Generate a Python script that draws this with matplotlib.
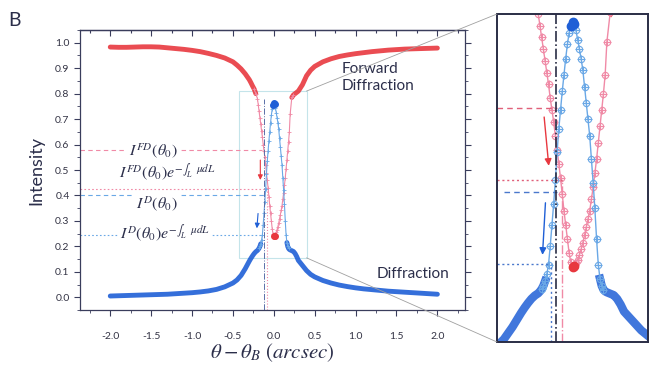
import numpy as np
import matplotlib.pyplot as plt
from matplotlib.patches import Rectangle, ConnectionPatch
from matplotlib.ticker import MultipleLocator, FormatStrFormatter

plt.rcParams['font.family'] = ['Lato', 'DejaVu Sans']
plt.rcParams['mathtext.fontset'] = 'stix'

# angle offset (arcsec)
theta = [-2.0, -1.9, -1.8, -1.7, -1.6, -1.5, -1.4, -1.3, -1.2, -1.1, -1.0, -0.9,
         -0.8, -0.7, -0.6, -0.5, -0.45, -0.4, -0.35, -0.3, -0.28, -0.26, -0.24, -0.22,
         -0.20, -0.19, -0.18, -0.17, -0.16, -0.15, -0.14, -0.13, -0.12, -0.11, -0.10,
         -0.09, -0.08, -0.07, -0.06, -0.05, -0.04, -0.03, -0.02, -0.01, 0.00,
         0.01, 0.02, 0.03, 0.04, 0.05, 0.06, 0.07, 0.08, 0.09, 0.10,
         0.11, 0.12, 0.13, 0.14, 0.15, 0.16, 0.17, 0.18, 0.19, 0.20,
         0.22, 0.24, 0.26, 0.28, 0.30, 0.35, 0.40, 0.45, 0.50, 0.6, 0.7, 0.8,
         0.9, 1.0, 1.1, 1.2, 1.3, 1.4, 1.5, 1.6, 1.7, 1.8, 1.9, 2.0]

# forward diffraction intensity (red)
forward = [0.983, 0.982, 0.982, 0.983, 0.984, 0.984, 0.983, 0.980, 0.977, 0.974, 0.970, 0.965,
           0.958, 0.950, 0.940, 0.925, 0.912, 0.897, 0.878, 0.855, 0.843, 0.830, 0.818, 0.800,
           0.780, 0.755, 0.730, 0.705, 0.680, 0.655, 0.630, 0.600, 0.575, 0.550, 0.520,
           0.490, 0.460, 0.430, 0.395, 0.360, 0.330, 0.300, 0.270, 0.250, 0.240,
           0.242, 0.248, 0.256, 0.266, 0.278, 0.292, 0.308, 0.325, 0.342, 0.360,
           0.385, 0.410, 0.440, 0.470, 0.505, 0.540, 0.575, 0.610, 0.650, 0.720,
           0.785, 0.795, 0.800, 0.805, 0.810, 0.835, 0.870, 0.892, 0.907, 0.925, 0.937, 0.946,
           0.952, 0.957, 0.961, 0.965, 0.968, 0.971, 0.973, 0.975, 0.976, 0.977, 0.978, 0.979]

# diffraction intensity (blue)
diffraction = [0.005, 0.006, 0.007, 0.008, 0.009, 0.010, 0.011, 0.012, 0.014, 0.016, 0.018, 0.021,
               0.025, 0.031, 0.041, 0.056, 0.068, 0.086, 0.112, 0.142, 0.153, 0.163, 0.172, 0.179,
               0.184, 0.188, 0.193, 0.200, 0.210, 0.225, 0.245, 0.285, 0.330, 0.375, 0.425,
               0.485, 0.535, 0.575, 0.615, 0.650, 0.685, 0.715, 0.740, 0.755, 0.762,
               0.758, 0.745, 0.725, 0.705, 0.685, 0.660, 0.625, 0.590, 0.555, 0.520,
               0.470, 0.420, 0.365, 0.300, 0.245, 0.215, 0.200, 0.192, 0.188, 0.186,
               0.183, 0.180, 0.172, 0.160, 0.145, 0.125, 0.105, 0.090, 0.080, 0.066, 0.056, 0.048,
               0.042, 0.037, 0.033, 0.030, 0.027, 0.024, 0.022, 0.020, 0.018, 0.016, 0.014, 0.012]

# reference levels used in the annotations
i_fd, i_fd_att = 0.58, 0.425
i_d, i_d_att = 0.40, 0.245

red, pink = '#e8383f', '#f08aa6'
blue, lblue = '#1f5fd6', '#6aa8e6'
ink = '#2b2e4a'

x = np.array(theta)
fd = np.array(forward)
d = np.array(diffraction)
# where the measured points are dense (flat parts) the curve reads as a thick band
series = [(fd, red, pink, 0.22), (d, blue, lblue, 0.16)]

fig = plt.figure(figsize=(6.54, 3.75), dpi=100)
ax = fig.add_axes([0.1223, 0.1733, 0.589, 0.7467])
axi = fig.add_axes([0.76, 0.088, 0.2309, 0.8747])

# ---- main panel ----
for ys, dark, light, cut in series:
    ax.plot(x, np.where(np.abs(x) >= cut, ys, np.nan), color=dark, lw=3.5, solid_capstyle='round', alpha=0.9)
    ax.plot(x, np.where(np.abs(x) <= cut + 0.02, ys, np.nan), color=light, lw=0.8, marker='+', ms=3, mew=0.6)
ax.plot(x[fd <= 0.245], fd[fd <= 0.245], 'o', color=red, ms=4)
ax.plot(x[d >= 0.755], d[d >= 0.755], 'o', color=blue, ms=4)

ax.plot([-2.37, -0.15], [i_fd, i_fd], ls=(0, (4, 3)), color=pink, lw=0.8)
ax.plot([-2.37, -0.12], [i_fd_att, i_fd_att], ls=(0, (1.5, 2)), color=pink, lw=0.8)
ax.plot([-2.37, -0.12], [i_d, i_d], ls=(0, (4, 3)), color=lblue, lw=0.8)
ax.plot([-2.37, -0.13], [i_d_att, i_d_att], ls=(0, (1.5, 2)), color=lblue, lw=0.8)
ax.plot([-0.12, -0.12], [-0.05, 0.78], ls='-.', color='#5a6fa8', lw=0.7)
ax.plot([-0.085, -0.085], [-0.05, i_fd_att], ls=':', color=pink, lw=0.8)
ax.annotate('', xy=(-0.165, 0.45), xytext=(-0.165, 0.55),
            arrowprops=dict(arrowstyle='-|>', color=red, lw=0.8, mutation_scale=7))
ax.annotate('', xy=(-0.21, 0.26), xytext=(-0.19, 0.34),
            arrowprops=dict(arrowstyle='-|>', color=blue, lw=0.8, mutation_scale=7))

box = dict(facecolor='white', edgecolor='none', pad=1.5)
ax.text(-1.47, 0.575, r'$I^{FD}(\theta_0)$', ha='center', va='center', fontsize=11.5, color=ink, bbox=box)
ax.text(-1.30, 0.49, r'$I^{FD}(\theta_0)e^{-\int_L\ \ \mu dL}$', ha='center', va='center', fontsize=11.5, color=ink, bbox=box)
ax.text(-1.43, 0.37, r'$I^{D}(\theta_0)$', ha='center', va='center', fontsize=11.5, color=ink, bbox=box)
ax.text(-1.33, 0.25, r'$I^{D}(\theta_0)e^{-\int_L\ \ \mu dL}$', ha='center', va='center', fontsize=11.5, color=ink, bbox=box)

ax.text(0.83, 0.925, 'Forward\nDiffraction', ha='left', va='top', fontsize=11, color=ink, linespacing=1.3)
ax.text(1.26, 0.09, 'Diffraction', ha='left', va='center', fontsize=11, color=ink)

ax.add_patch(Rectangle((-0.43, 0.155), 0.83, 0.655, fill=False, ec='#c4e4ea', lw=0.8))

ax.set_xlim(-2.37, 2.34)
ax.set_ylim(-0.05, 1.05)
ax.set_xticks(np.arange(-2.0, 2.01, 0.5))
ax.set_yticks(np.arange(0.0, 1.01, 0.1))
ax.xaxis.set_major_formatter(FormatStrFormatter('%.1f'))
ax.yaxis.set_major_formatter(FormatStrFormatter('%.1f'))
ax.xaxis.set_minor_locator(MultipleLocator(0.25))
ax.yaxis.set_minor_locator(MultipleLocator(0.05))
ax.tick_params(which='both', direction='out', right=True, colors='#3a3d5c', labelsize=7.5, labelcolor='#333344')
ax.tick_params(which='major', length=4, width=0.8)
ax.tick_params(which='minor', length=2.5, width=0.6)
ax.tick_params(axis='x', pad=12)
top = ax.secondary_xaxis('top')
top.set_xticks(np.arange(-2.0, 2.01, 0.5))
top.xaxis.set_minor_locator(MultipleLocator(0.25))
top.tick_params(which='both', direction='in', labeltop=False, colors='#3a3d5c', length=4, width=0.8)
top.tick_params(which='minor', length=2.5)
for sp in list(ax.spines.values()) + list(top.spines.values()):
    sp.set_color('#3a3d5c')
    sp.set_linewidth(0.9)

ax.set_ylabel('Intensity', fontsize=13, color=ink, labelpad=8)
ax.set_xlabel(r'$\theta - \theta_B\ (arcsec)$', fontsize=15, color=ink, labelpad=0)
fig.text(0.012, 0.93, 'B', fontsize=14, color=ink)

# ---- zoomed inset ----
for ys, dark, light, cut in series:
    axi.plot(x, np.where(np.abs(x) >= cut, ys, np.nan), color=dark, lw=6, alpha=0.85)
    near = np.abs(x) <= cut + 0.02
    axi.plot(x, np.where(near, ys, np.nan), color=light, lw=1.0, marker='o', ms=4.5, mfc='none', mew=0.8)
    axi.plot(x[near], ys[near], '+', color=light, ms=6, mew=0.8, ls='none')
axi.plot(x[fd <= 0.245], fd[fd <= 0.245], 'o', color=red, ms=6)
axi.plot(x[d >= 0.755], d[d >= 0.755], 'o', color=blue, ms=6)

axi.plot([-0.44, -0.09], [i_fd, i_fd], ls=(0, (4, 3)), color='#e0607a', lw=1)
axi.plot([-0.44, -0.05], [i_fd_att, i_fd_att], ls=(0, (1.5, 2)), color='#e0607a', lw=1)
axi.plot([-0.40, -0.09], [i_d, i_d], ls=(0, (4, 3)), color='#4a78cc', lw=1)
axi.plot([-0.44, -0.128], [0.247, 0.247], ls=(0, (1.5, 2)), color='#4a78cc', lw=1)
axi.plot([-0.097, -0.097], [0.08, 0.78], ls='-.', color='#2a2d45', lw=1.2)
axi.plot([-0.128, -0.128], [0.08, 0.247], ls=(0, (1.5, 2)), color='#4a78cc', lw=1)
axi.plot([-0.06, -0.06], [0.08, i_fd_att], ls='-.', color='#f08aa6', lw=1)
axi.annotate('', xy=(-0.137, 0.45), xytext=(-0.167, 0.566),
             arrowprops=dict(arrowstyle='-|>', color=red, lw=1, mutation_scale=10))
axi.annotate('', xy=(-0.176, 0.26), xytext=(-0.157, 0.383),
             arrowprops=dict(arrowstyle='-|>', color=blue, lw=1, mutation_scale=10))

axi.set_xlim(-0.44, 0.44)
axi.set_ylim(0.08, 0.78)
axi.set_xticks([])
axi.set_yticks([])
for sp in axi.spines.values():
    sp.set_color('#2a2d45')
    sp.set_linewidth(1.4)

for ya, yb in [(0.81, 1), (0.155, 0)]:
    con = ConnectionPatch(xyA=(0.40, ya), coordsA=ax.transData, xyB=(0, yb), coordsB=axi.transAxes,
                          color='#a0a0a0', lw=0.6)
    fig.add_artist(con)

fig.savefig('out.png', dpi=100)
